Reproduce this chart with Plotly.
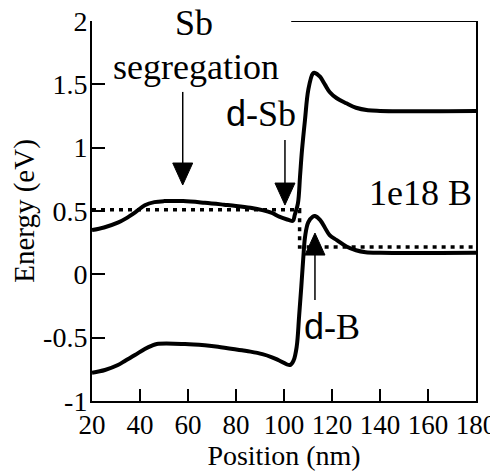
import plotly.graph_objects as go

# band edges: position (nm) vs energy (eV)
x_cb = [20, 25, 31, 34, 38, 42, 46, 50, 58, 67, 75, 80, 86, 91, 95, 98, 101, 103.7,
        104.5, 105.8, 106.7, 107.5, 108.75, 110.1, 112, 112.9, 115, 117, 119, 122, 126,
        130, 135, 140, 180]
e_cb = [0.35, 0.37, 0.41, 0.44, 0.49, 0.545, 0.57, 0.578, 0.578, 0.565, 0.55, 0.54, 0.525,
        0.507, 0.485, 0.455, 0.435, 0.423,
        0.47, 0.56, 0.78, 0.98, 1.22, 1.455, 1.585, 1.59, 1.56, 1.5, 1.44, 1.39, 1.35,
        1.315, 1.295, 1.29, 1.29]

x_vb = [20, 25.4, 30.8, 34, 37.9, 42, 45, 47, 58.75, 67, 72.5, 82.5, 86, 91, 95, 98, 102.5,
        104, 105.3, 106.3, 107.2, 108, 108.8, 110.1, 112, 112.9, 115, 117, 119, 122, 126,
        130, 134, 140, 180]
e_vb = [-0.777, -0.755, -0.716, -0.68, -0.637, -0.59, -0.563, -0.55, -0.55, -0.56, -0.571,
        -0.6, -0.61, -0.63, -0.655, -0.68, -0.716,
        -0.68, -0.57, -0.33, -0.1, 0.12, 0.3, 0.41, 0.455, 0.46, 0.43, 0.37, 0.31, 0.27, 0.22,
        0.19, 0.175, 0.17, 0.17]

# Fermi level (dotted)
x_ef = [20, 106.5, 106.5, 180]
e_ef = [0.51, 0.51, 0.215, 0.215]

# arrows: x position, tip and tail energy
arrow_x = [57.8, 100.4, 112.9]
arrow_tip = [0.705, 0.547, 0.326]
arrow_tail = [1.44, 1.06, -0.203]

# page body has an 8px margin, so the figure is a bit smaller than the window
W, H = 490, 463
ML, MR, MT, MB = 84, 22, 13, 70
px_nm = (W - ML - MR) / 160.0
px_ev = (H - MT - MB) / 3.0
head_w, head_l = 20, 22

serif = "Times New Roman, Liberation Serif, serif"

fig = go.Figure()

fig.add_trace(go.Scatter(x=x_ef, y=e_ef, mode="lines",
                         line=dict(color="black", width=3.5, dash="4px,5px")))
fig.add_trace(go.Scatter(x=x_cb, y=e_cb, mode="lines", line_shape="spline",
                         line=dict(color="black", width=4)))
fig.add_trace(go.Scatter(x=x_vb, y=e_vb, mode="lines", line_shape="spline",
                         line=dict(color="black", width=4)))

for ax_, tip, tail in zip(arrow_x, arrow_tip, arrow_tail):
    d = 1 if tail > tip else -1
    base = tip + d * head_l / px_ev
    hw = head_w / 2 / px_nm
    fig.add_trace(go.Scatter(x=[ax_, ax_], y=[tail, base], mode="lines",
                             line=dict(color="black", width=1.5)))
    fig.add_trace(go.Scatter(x=[ax_ - hw, ax_ + hw, ax_, ax_ - hw],
                             y=[base, base, tip, base], mode="lines", fill="toself",
                             fillcolor="black", line=dict(color="black", width=1)))

# partial top frame line
fig.add_shape(type="line", x0=103, x1=180, y0=2, y1=2, line=dict(color="black", width=2))

ann = dict(showarrow=False, font=dict(family=serif, size=36, color="black"))
fig.add_annotation(x=62.7, y=1.985, text="Sb", **ann)
fig.add_annotation(x=63.3, y=1.64, text="segregation", **ann)
fig.add_annotation(x=90.6, y=1.27,
                   text="<span style='font-family:Arial'>d</span>-Sb", **ann)
fig.add_annotation(x=156.7, y=0.64, text="1e18 B", **ann)
fig.add_annotation(x=120.2, y=-0.41,
                   text="<span style='font-family:Arial'>d</span>-B", **ann)

fig.update_layout(
    width=W, height=H,
    margin=dict(l=ML, r=MR, t=MT, b=MB),
    plot_bgcolor="white", paper_bgcolor="white",
    showlegend=False,
    font=dict(family=serif, size=28, color="black"),
)
fig.update_xaxes(range=[20, 180], tickvals=list(range(20, 181, 20)),
                 ticks="inside", ticklen=12, tickwidth=2, tickcolor="black",
                 showline=True, linecolor="black", linewidth=2, showgrid=False,
                 zeroline=False, automargin=False, ticklabelstandoff=-1,
                 ticklabeloverflow="allow",
                 tickfont=dict(family=serif, size=27),
                 title=dict(text="Position (nm)", standoff=4,
                            font=dict(family=serif, size=28)))
fig.update_yaxes(range=[-1, 2], tickvals=[-1, -0.5, 0, 0.5, 1, 1.5, 2],
                 ticktext=["-1", "-0.5", "0", "0.5", "1", "1.5", "2"],
                 ticks="inside", ticklen=13, tickwidth=2, tickcolor="black",
                 showline=True, linecolor="black", linewidth=2, mirror=True,
                 showgrid=False, zeroline=False, automargin=False,
                 ticklabelstandoff=-3, ticklabeloverflow="allow",
                 tickfont=dict(family=serif, size=28),
                 title=dict(text="Energy (eV)", standoff=28,
                            font=dict(family=serif, size=29)))

fig.write_html("out.html")
